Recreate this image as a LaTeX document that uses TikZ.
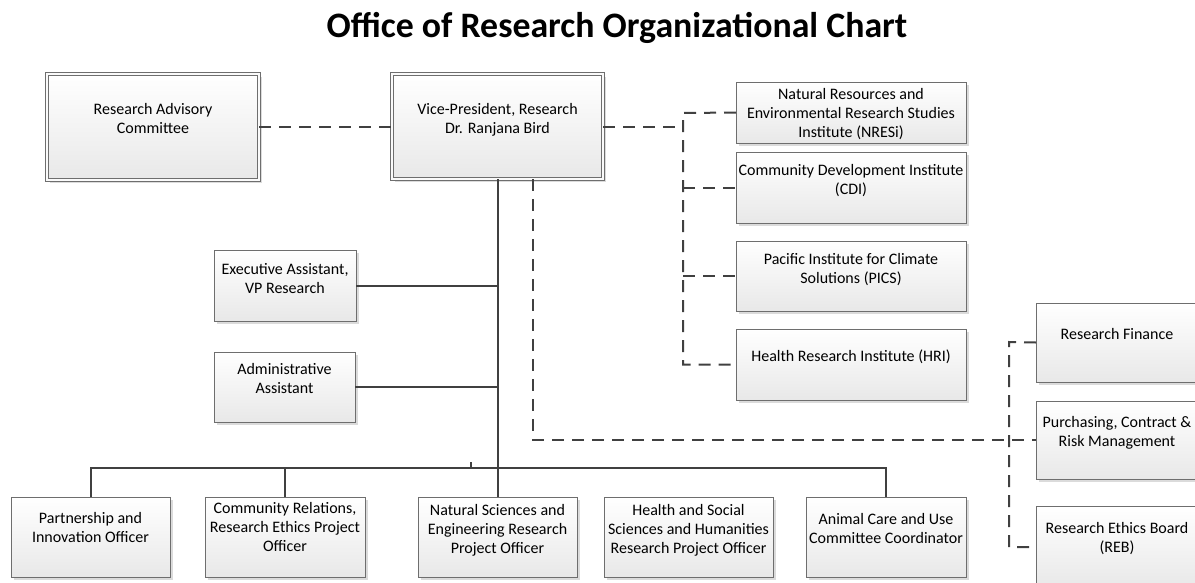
\documentclass[tikz,border=0pt]{standalone}
\usepackage{fontspec}
\setmainfont{Carlito}
\usetikzlibrary{shadows}
\definecolor{linec}{HTML}{404040}
\definecolor{bordc}{HTML}{6E6E6E}
\newcommand{\bxt}[4]{\parbox[c][#2][t]{#1}{\centering\vspace*{#3}#4\par}}
\begin{document}
\begin{tikzpicture}[x=1pt,y=-1pt,
  box/.style={draw=bordc, line width=0.8pt, top color=white, bottom color=black!9,
    inner sep=0pt, outer sep=0pt, font=\fontsize{16}{19}\selectfont,
    drop shadow={shadow xshift=3pt, shadow yshift=-3pt, fill=black!14, opacity=1}},
  dbl/.style={double=black!2, double distance=2.2pt, line width=0.8pt},
  sol/.style={draw=linec, line width=2pt},
  dsh/.style={draw=linec, line width=2pt, dash pattern=on 12pt off 8pt}]
\useasboundingbox (0,0) rectangle (1195,582);

\node[font=\fontsize{35.8}{40}\selectfont\bfseries] (title) at (617,28) {Office of Research Organizational Chart};

% top row
\node[box,dbl] (rac) at (153,127) {\bxt{212pt}{106pt}{29pt}{Research Advisory\\Committee}};
\node[box,dbl] (vp) at (497.5,126.5) {\bxt{211pt}{105pt}{29pt}{Vice-President, Research\\Dr. Ranjana Bird}};

% institutes
\node[box] (nresi) at (851,112.5) {\bxt{230pt}{61pt}{6pt}{Natural Resources and\\Environmental Research Studies\\Institute (NRESi)}};
\node[box] (cdi) at (851,187.5) {\bxt{230pt}{71pt}{12pt}{Community Development Institute\\(CDI)}};
\node[box] (pics) at (851,276) {\bxt{230pt}{70pt}{12pt}{Pacific Institute for Climate\\Solutions (PICS)}};
\node[box] (hri) at (851,364.5) {\bxt{230pt}{71pt}{21pt}{Health Research Institute (HRI)}};

% assistants
\node[box] (exec) at (285,285.5) {\bxt{142pt}{71pt}{13pt}{Executive Assistant,\\VP Research}};
\node[box] (admin) at (284.5,387) {\bxt{141pt}{70pt}{11pt}{Administrative\\Assistant}};

% right column
\node[box] (rf) at (1117,342.5) {\bxt{162pt}{79pt}{25pt}{Research Finance}};
\node[box] (purch) at (1117,440) {\bxt{162pt}{78pt}{15pt}{Purchasing, Contract \&\\Risk Management}};
\node[box] (reb) at (1117,547) {\bxt{162pt}{82pt}{16pt}{Research Ethics Board\\(REB)}};

% bottom row
\node[box] (partner) at (90.5,537) {\bxt{159pt}{80pt}{15pt}{Partnership and\\Innovation Officer}};
\node[box] (commrel) at (285,537) {\bxt{160pt}{80pt}{5pt}{Community Relations,\\Research Ethics Project\\Officer}};
\node[box] (natsci) at (497.5,537) {\bxt{159pt}{80pt}{7pt}{Natural Sciences and\\Engineering Research\\Project Officer}};
\node[box] (hss) at (688.5,537) {\bxt{169pt}{80pt}{7pt}{Health and Social\\Sciences and Humanities\\Research Project Officer}};
\node[box] (animal) at (886,537) {\bxt{160pt}{80pt}{16pt}{Animal Care and Use\\Committee Coordinator}};

% helper coordinates
\coordinate (instbus) at (683,113);
\coordinate (rbus) at (1009,342);
\coordinate (vpd) at (533,440);
\coordinate (bus) at (0,468);
\coordinate (stub) at (471,462);

% dashed connectors
\draw[dsh] (rac.east) -- (rac.east -| vp.west);
\draw[dsh] (vp.east) -- (vp.east -| instbus);
\draw[dsh] (nresi.west) -- (instbus) -- (instbus |- hri.west) -- (hri.west);
\draw[dsh] (instbus |- cdi.west) -- (cdi.west);
\draw[dsh] (instbus |- pics.west) -- (pics.west);
\draw[dsh] (rf.west) -- (rbus) -- (rbus |- reb.west) -- (reb.west);
\draw[dsh] (vp.south -| vpd) -- (vpd) -- (purch.west);

% solid connectors
\draw[sol] (vp.south) -- (natsci.north);
\draw[sol] (exec.east) -- (exec.east -| vp.south);
\draw[sol] (admin.east) -- (admin.east -| vp.south);
\draw[sol] (partner.north) -- (partner.north |- bus) -- (animal.north |- bus) -- (animal.north);
\draw[sol] (commrel.north) -- (commrel.north |- bus);
\draw[sol] (stub) -- (stub |- bus);
\end{tikzpicture}
\end{document}
